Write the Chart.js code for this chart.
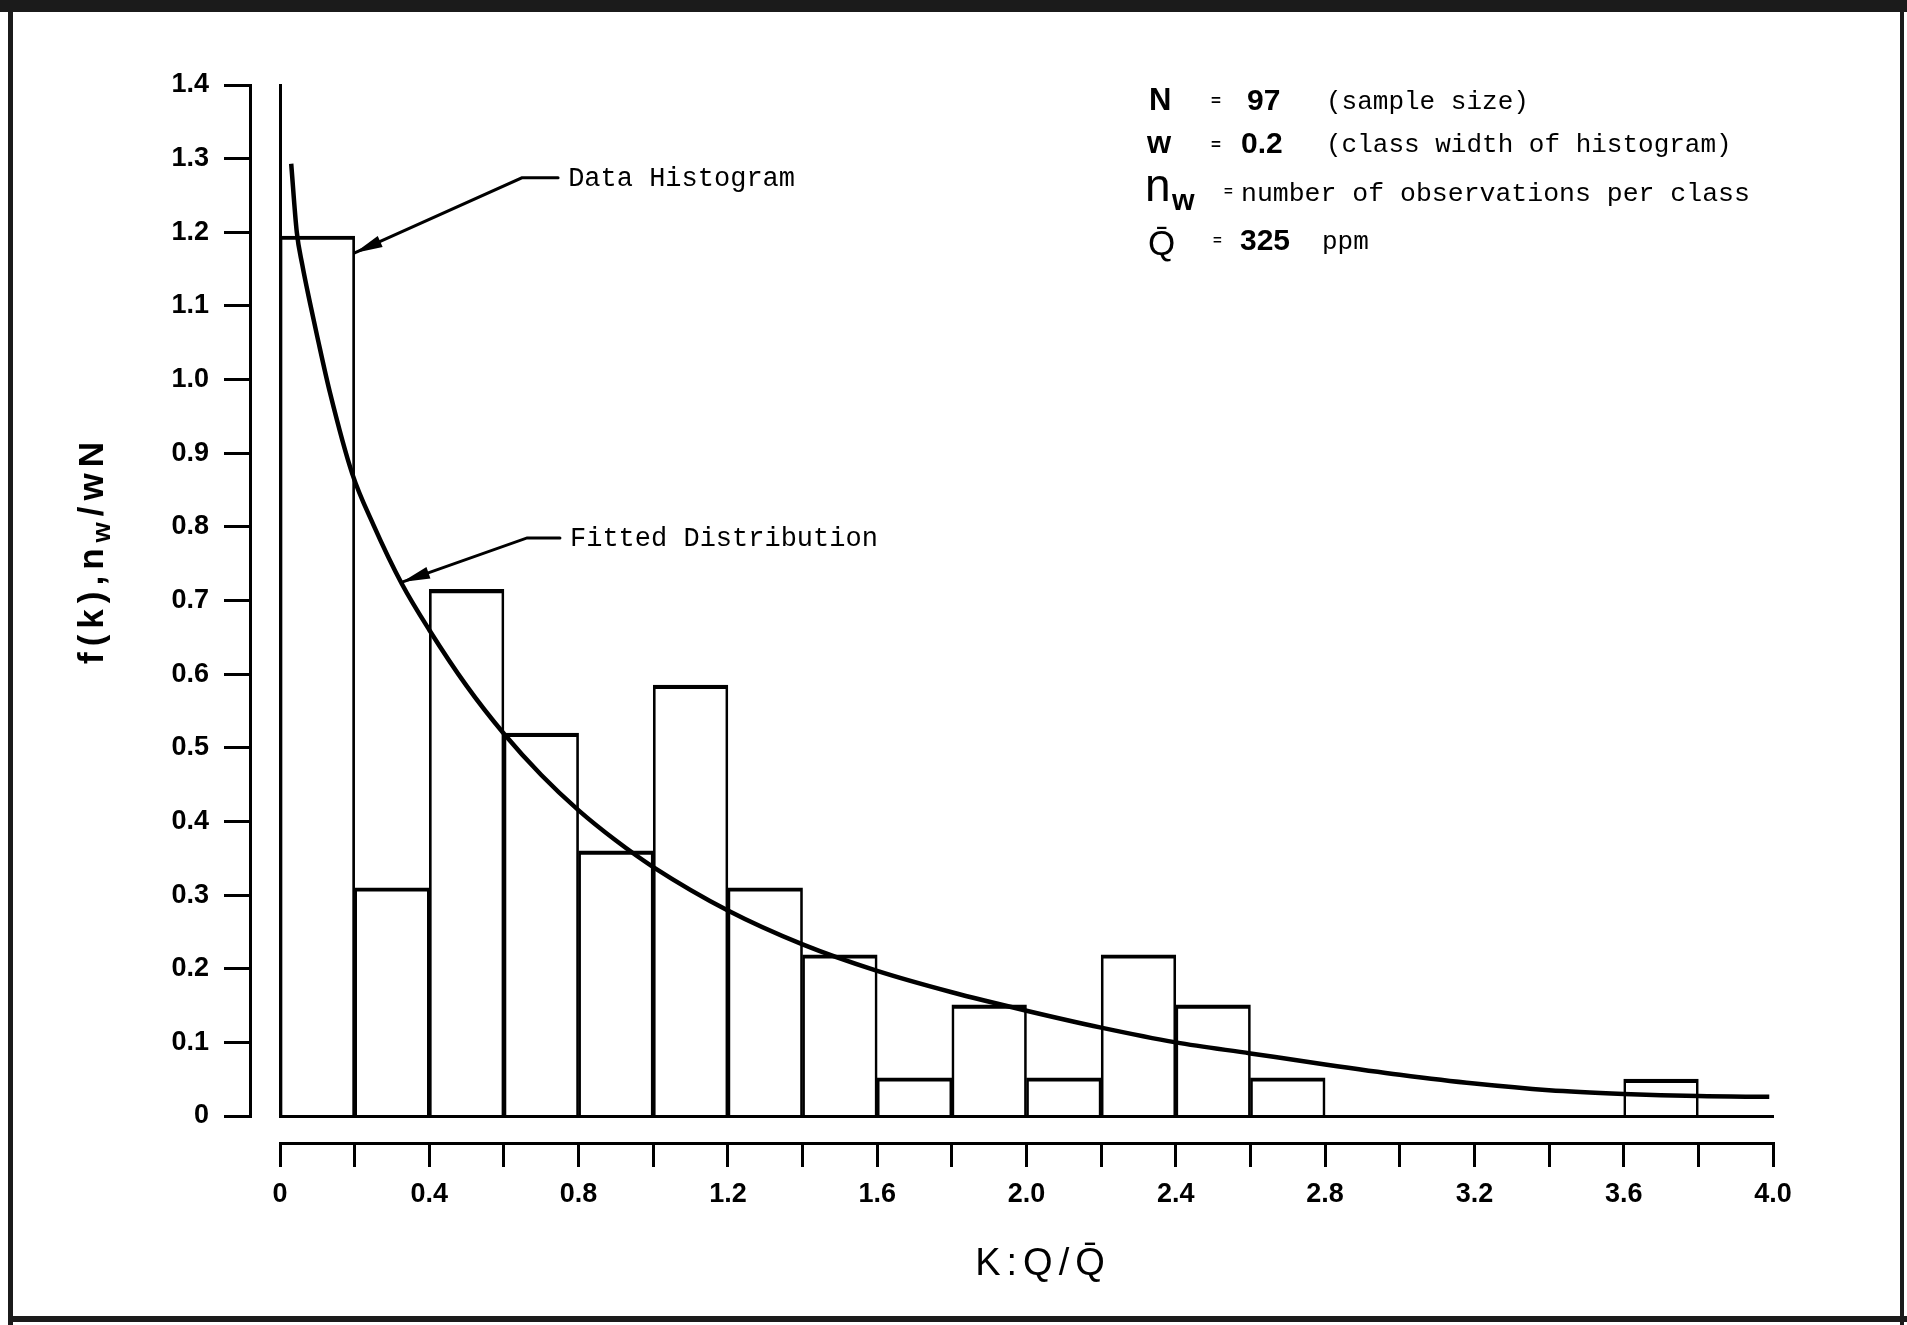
<!DOCTYPE html>
<html>
<head>
<meta charset="utf-8">
<title>Data Histogram / Fitted Distribution</title>
<script src="https://cdn.jsdelivr.net/npm/chart.js@4.4.1/dist/chart.umd.min.js"></script>
<style>
  html, body { margin: 0; padding: 0; background: #fff; }
  #caixa { width: 1907px; height: 1325px; position: relative; }
</style>
</head>
<body>
<div id="caixa"><canvas id="grafico"></canvas></div>
<script>
// classes do histograma (inicio de cada classe, largura 0.2) e n_w / wN
const classWidth = 0.2;
const classStart = [0, 0.2, 0.4, 0.6, 0.8, 1.0, 1.2, 1.4, 1.6, 1.8, 2.0, 2.2, 2.4, 2.6, 2.8, 3.0, 3.2, 3.4, 3.6, 3.8];
const histValues = [1.195, 0.31, 0.715, 0.52, 0.36, 0.585, 0.31, 0.219, 0.052, 0.151, 0.052, 0.219, 0.151, 0.052, 0, 0, 0, 0, 0.05, 0];

// distribuicao ajustada f(k)
const curveK = [0.03, 0.045, 0.06, 0.08, 0.1, 0.134, 0.193, 0.25, 0.327, 0.4, 0.5, 0.6, 0.7, 0.8, 0.9, 1.0, 1.2, 1.4, 1.6, 1.8, 2.0, 2.2, 2.4, 2.6, 2.8, 3.0, 3.2, 3.4, 3.6, 3.8, 3.99];
const curveF = [1.293, 1.20, 1.155, 1.105, 1.058, 0.982, 0.873, 0.803, 0.722, 0.66, 0.584, 0.519, 0.463, 0.415, 0.374, 0.338, 0.279, 0.233, 0.197, 0.168, 0.143, 0.12, 0.10, 0.085, 0.07, 0.056, 0.044, 0.035, 0.030, 0.027, 0.026];

const xTickLabels = ['0', '0.4', '0.8', '1.2', '1.6', '2.0', '2.4', '2.8', '3.2', '3.6', '4.0'];
const yTickLabels = ['0', '0.1', '0.2', '0.3', '0.4', '0.5', '0.6', '0.7', '0.8', '0.9', '1.0', '1.1', '1.2', '1.3', '1.4'];

const corTinta = '#000000';
const fonteEixo = 'Liberation Sans, Arial, sans-serif';
const fonteMaquina = 'Liberation Mono, Courier New, monospace';

// setas das notas (em unidades dos dados)
const notas = [
  { texto: 'Data Histogram', ponta: [0.2, 1.172], cotovelo: [0.648, 1.274], fimTraco: 0.745, inicioTexto: 0.772 },
  { texto: 'Fitted Distribution', ponta: [0.327, 0.725], cotovelo: [0.662, 0.785], fimTraco: 0.75, inicioTexto: 0.777 }
];

function desenhaEspacado(ctx, partes, cx, baseY, espaco) {
  // partes: [{t, font, dy}] desenhadas letra a letra com espacamento extra
  const letras = [];
  partes.forEach(p => {
    ctx.font = p.font;
    (p.t.match(/\P{M}\p{M}*/gu) || []).forEach(ch => {
      letras.push({ ch, font: p.font, dy: p.dy || 0, w: ctx.measureText(ch).width });
    });
  });
  const total = letras.reduce((s, l) => s + l.w, 0) + espaco * (letras.length - 1);
  let x = cx - total / 2;
  letras.forEach(l => {
    ctx.font = l.font;
    ctx.fillText(l.ch, x, baseY + l.dy);
    x += l.w + espaco;
  });
}

function texto(ctx, t, x, y, font) {
  ctx.font = font;
  ctx.fillText(t, x, y);
}

const anotacoes = {
  id: 'anotacoes',
  beforeDraw(chart) {
    const c = chart.ctx;
    c.save();
    c.fillStyle = '#ffffff';
    c.fillRect(0, 0, chart.width, chart.height);
    c.restore();
  },
  afterDraw(chart) {
    const c = chart.ctx;
    const sx = chart.scales.x;
    const sy = chart.scales.y;
    c.save();
    c.fillStyle = corTinta;
    c.strokeStyle = corTinta;

    // moldura da folha
    c.fillStyle = '#1b1b1b';
    c.fillRect(0, 0, chart.width, 12);
    c.fillRect(8, 0, 5, chart.height);
    c.fillRect(8, chart.height - 9, chart.width - 8, 6);
    c.fillRect(chart.width - 7, 0, 4, chart.height);
    c.fillStyle = corTinta;

    // titulo do eixo y, rodado
    c.save();
    c.translate(90, 553);
    c.rotate(-Math.PI / 2);
    c.textBaseline = 'alphabetic';
    desenhaEspacado(c, [
      { t: 'f(k),n', font: 'bold 35px ' + fonteEixo },
      { t: 'w', font: 'bold 26px ' + fonteEixo, dy: 7 },
      { t: '/wN', font: 'bold 35px ' + fonteEixo }
    ], 0, 13, 6);
    c.restore();

    // titulo do eixo x
    c.textBaseline = 'alphabetic';
    desenhaEspacado(c, [{ t: 'K:Q/Q\u0304', font: '38px ' + fonteEixo }], 1040, 1275, 6);

    // notas com seta
    c.lineWidth = 3;
    c.lineCap = 'round';
    notas.forEach(n => {
      const px = sx.getPixelForValue(n.ponta[0]);
      const py = sy.getPixelForValue(n.ponta[1]);
      const ex = sx.getPixelForValue(n.cotovelo[0]);
      const ey = sy.getPixelForValue(n.cotovelo[1]);
      const fx = sx.getPixelForValue(n.fimTraco);
      c.beginPath();
      c.moveTo(fx, ey);
      c.lineTo(ex, ey);
      c.lineTo(px, py);
      c.stroke();
      const ang = Math.atan2(py - ey, px - ex);
      const comp = 28, meia = 6;
      c.beginPath();
      c.moveTo(px, py);
      c.lineTo(px - comp * Math.cos(ang) + meia * Math.sin(ang), py - comp * Math.sin(ang) - meia * Math.cos(ang));
      c.lineTo(px - comp * Math.cos(ang) - meia * Math.sin(ang), py - comp * Math.sin(ang) + meia * Math.cos(ang));
      c.closePath();
      c.fill();
      c.textBaseline = 'middle';
      texto(c, n.texto, sx.getPixelForValue(n.inicioTexto), ey + 1, '27px ' + fonteMaquina);
    });

    // quadro de parametros
    c.textBaseline = 'alphabetic';
    texto(c, 'N', 1149, 110, 'bold 31px ' + fonteEixo);
    texto(c, '=', 1211, 106, 'bold 17px ' + fonteEixo);
    texto(c, '97', 1247, 110, 'bold 30px ' + fonteEixo);
    texto(c, '(sample size)', 1326, 109, '26px ' + fonteMaquina);

    texto(c, 'w', 1147, 153, 'bold 31px ' + fonteEixo);
    texto(c, '=', 1211, 150, 'bold 17px ' + fonteEixo);
    texto(c, '0.2', 1241, 153, 'bold 30px ' + fonteEixo);
    texto(c, '(class width of histogram)', 1326, 152, '26px ' + fonteMaquina);

    texto(c, 'n', 1145, 201, '46px ' + fonteEixo);
    texto(c, 'w', 1172, 210, 'bold 29px ' + fonteEixo);
    texto(c, '=', 1224, 196, 'bold 15px ' + fonteEixo);
    texto(c, 'number of observations per class', 1241, 201, '26.5px ' + fonteMaquina);

    texto(c, 'Q\u0304', 1148, 255, '35px ' + fonteEixo);
    texto(c, '=', 1213, 245, 'bold 15px ' + fonteEixo);
    texto(c, '325', 1240, 250, 'bold 30px ' + fonteEixo);
    texto(c, 'ppm', 1322, 249, '26px ' + fonteMaquina);

    c.restore();
  }
};

const ctx = document.getElementById('grafico').getContext('2d');
new Chart(ctx, {
  type: 'bar',
  data: {
    datasets: [
      {
        type: 'line',
        label: 'Fitted Distribution',
        data: curveK.map((k, i) => ({ x: k, y: curveF[i] })),
        borderColor: corTinta,
        borderWidth: 4.5,
        pointRadius: 0,
        cubicInterpolationMode: 'monotone',
        fill: false,
        xAxisID: 'x',
        yAxisID: 'y'
      },
      {
        type: 'bar',
        label: 'Data Histogram',
        data: classStart.map((k, i) => ({ x: k + classWidth / 2, y: histValues[i] })),
        backgroundColor: 'rgba(255,255,255,0)',
        borderColor: corTinta,
        borderWidth: { top: 3.5, left: 2, right: 2, bottom: 0 },
        borderSkipped: 'start',
        barPercentage: 1,
        categoryPercentage: 1,
        xAxisID: 'x',
        yAxisID: 'y'
      }
    ]
  },
  options: {
    responsive: true,
    maintainAspectRatio: false,
    animation: false,
    layout: {
      padding: { left: 150, right: 134, top: 85, bottom: 82 }
    },
    scales: {
      x: {
        type: 'linear',
        position: 'bottom',
        min: 0,
        max: 4,
        offset: false,
        weight: 0,
        ticks: { display: false },
        grid: { display: false, offset: false },
        border: { display: true, color: corTinta, width: 3 },
        afterFit: s => { s.height = 27; }
      },
      xEixo: {
        type: 'linear',
        position: 'bottom',
        min: 0,
        max: 4,
        offset: false,
        weight: 1,
        ticks: {
          stepSize: 0.2,
          autoSkip: false,
          maxRotation: 0,
          padding: 11,
          color: corTinta,
          font: { family: fonteEixo, size: 27, weight: 'bold' },
          callback: (v, i) => (i % 2 === 0 ? xTickLabels[i / 2] : '')
        },
        grid: { drawOnChartArea: false, drawTicks: true, tickLength: 24, color: corTinta, lineWidth: 3, offset: false },
        border: { display: true, color: corTinta, width: 3 },
        afterFit: s => { s.height = 100; }
      },
      y: {
        type: 'linear',
        position: 'left',
        min: 0,
        max: 1.4,
        weight: 0,
        ticks: { display: false },
        grid: { display: false },
        border: { display: true, color: corTinta, width: 3 },
        afterFit: s => { s.width = 30; }
      },
      yEixo: {
        type: 'linear',
        position: 'left',
        min: 0,
        max: 1.4,
        weight: 1,
        ticks: {
          stepSize: 0.1,
          autoSkip: false,
          padding: 15,
          color: corTinta,
          font: { family: fonteEixo, size: 27, weight: 'bold' },
          callback: (v, i) => yTickLabels[i]
        },
        grid: { drawOnChartArea: false, drawTicks: true, tickLength: 26, color: corTinta, lineWidth: 3 },
        border: { display: true, color: corTinta, width: 3 },
        afterFit: s => { s.width = 100; }
      }
    },
    plugins: {
      legend: { display: false },
      tooltip: { enabled: false }
    }
  },
  plugins: [anotacoes]
});
</script>
</body>
</html>
